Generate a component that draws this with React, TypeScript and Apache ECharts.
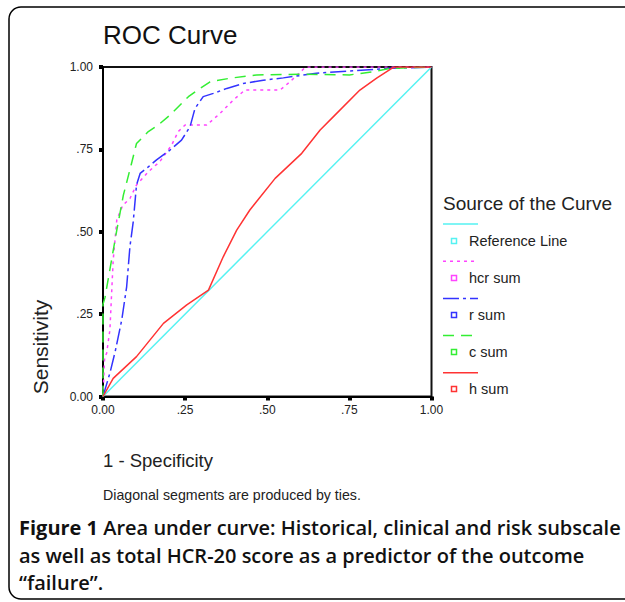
import React, { useEffect, useRef } from "react";
import * as echarts from "echarts";

const seriesNames = ["Reference Line", "hcr sum", "r sum", "c sum", "h sum"];
const seriesColors = ["#55f2f2", "#ff44ff", "#3333ff", "#33ee33", "#ff3333"];
const seriesDash: (number[] | "solid")[] = ["solid", [3, 4], [16, 4, 3, 4], [11, 7], "solid"];

const xTickLabels = ["0.00", ".25", ".50", ".75", "1.00"];
const yTickLabels = ["0.00", ".25", ".50", ".75", "1.00"];

const referenceLine = [[0, 0], [1, 1]];

const hcrSum = [
  [0, 0], [0.005, 0.12], [0.011, 0.131], [0.021, 0.202], [0.031, 0.414], [0.042, 0.536],
  [0.06, 0.58], [0.082, 0.601], [0.102, 0.642], [0.138, 0.682], [0.173, 0.713], [0.209, 0.763],
  [0.229, 0.804], [0.25, 0.824], [0.316, 0.824], [0.356, 0.859], [0.397, 0.9], [0.432, 0.93],
  [0.539, 0.93], [0.569, 0.955], [0.615, 0.998], [0.62, 1], [1, 1],
];

const rSum = [
  [0, 0], [0.021, 0.071], [0.037, 0.136], [0.057, 0.232], [0.072, 0.333], [0.082, 0.455],
  [0.092, 0.53], [0.102, 0.642], [0.113, 0.677], [0.138, 0.697], [0.163, 0.718], [0.204, 0.748],
  [0.239, 0.778], [0.265, 0.819], [0.28, 0.874], [0.305, 0.91], [0.336, 0.92], [0.377, 0.935],
  [0.427, 0.95], [0.488, 0.96], [0.549, 0.967], [0.65, 0.981], [0.752, 0.988], [0.874, 0.996], [1, 1],
];

const cSum = [
  [0, 0], [0, 0.28], [0.006, 0.3], [0.026, 0.414], [0.042, 0.505], [0.062, 0.611], [0.087, 0.708],
  [0.102, 0.768], [0.138, 0.804], [0.168, 0.824], [0.204, 0.854], [0.26, 0.91], [0.295, 0.935],
  [0.326, 0.955], [0.387, 0.966], [0.468, 0.976], [0.6, 0.978], [0.75, 0.976], [0.82, 0.985],
  [0.874, 0.996], [1, 1],
];

const hSum = [
  [0, 0], [0.031, 0.055], [0.102, 0.121], [0.184, 0.222], [0.255, 0.278], [0.321, 0.323],
  [0.366, 0.424], [0.407, 0.505], [0.447, 0.566], [0.524, 0.662], [0.605, 0.738], [0.661, 0.809],
  [0.706, 0.854], [0.782, 0.93], [0.833, 0.966], [0.879, 0.996], [0.89, 1], [1, 1],
];

const seriesData = [referenceLine, hcrSum, rSum, cSum, hSum];

const chartTitle = "ROC Curve";
const xTitle = "1 - Specificity";
const yTitle = "Sensitivity";
const legendTitle = "Source of the Curve";
const footnote = "Diagonal segments are produced by ties.";
const captionBold = "Figure 1";
const captionLines = [
  " Area under curve: Historical, clinical and risk subscale",
  "as well as total HCR-20 score as a predictor of the outcome",
  "\u201cfailure\u201d.",
];

const FONT = "'Liberation Sans', Arial, sans-serif";
const CAP_FONT = "'Open Sans', sans-serif";

export default function App() {
  const ref = useRef<HTMLDivElement>(null);
  useEffect(() => {
    document.body.style.margin = "0";
    const chart = echarts.init(ref.current!, undefined, { renderer: "svg" });

    const legendX = 443;
    const legendGraphics: any[] = [];
    seriesNames.forEach((name, i) => {
      const ly = 224 + 37.2 * i;
      const ty = 241 + 37 * i;
      const dash = seriesDash[i];
      legendGraphics.push({
        type: "line",
        shape: { x1: legendX, y1: ly, x2: legendX + 35, y2: ly },
        style: { stroke: seriesColors[i], lineWidth: 1.5, lineDash: dash === "solid" ? null : dash },
      });
      legendGraphics.push({
        type: "rect",
        shape: { x: 451.5, y: ty - 2.5, width: 5, height: 5 },
        style: { fill: "#fff", stroke: seriesColors[i], lineWidth: 1.5 },
      });
      legendGraphics.push({
        type: "text",
        x: 469,
        y: ty,
        style: { text: name, font: `14.5px ${FONT}`, fill: "#222", verticalAlign: "middle" },
      });
    });

    chart.setOption({
      animation: false,
      grid: {
        left: 103,
        top: 67,
        width: 328.5,
        height: 329.5,
        show: true,
        borderColor: "#111",
        borderWidth: 2,
        backgroundColor: "#fff",
      },
      xAxis: {
        type: "value",
        min: 0,
        max: 1,
        interval: 0.25,
        axisLine: { show: true, lineStyle: { color: "#000", width: 2 } },
        axisTick: { show: true, length: 4, lineStyle: { color: "#000", width: 4 } },
        splitLine: { show: false },
        axisLabel: {
          margin: 7,
          fontFamily: FONT,
          fontSize: 12,
          color: "#222",
          formatter: (v: number) => xTickLabels[Math.round(v / 0.25)],
        },
      },
      yAxis: {
        type: "value",
        min: 0,
        max: 1,
        interval: 0.25,
        axisLine: { show: true, lineStyle: { color: "#000", width: 2 } },
        axisTick: { show: true, length: 4, lineStyle: { color: "#000", width: 4 } },
        splitLine: { show: false },
        axisLabel: {
          margin: 10,
          fontFamily: FONT,
          fontSize: 12,
          color: "#222",
          formatter: (v: number) => yTickLabels[Math.round(v / 0.25)],
        },
      },
      series: seriesNames.map((name, i) => ({
        name,
        type: "line",
        data: seriesData[i],
        showSymbol: false,
        symbol: "none",
        z: i === 0 ? 2 : 3,
        lineStyle: {
          color: seriesColors[i],
          width: 1.5,
          type: seriesDash[i],
        },
      })),
      graphic: [
        {
          type: "rect",
          shape: { x: 9, y: 7, width: 640, height: 592, r: 12 },
          style: { fill: "none", stroke: "#000", lineWidth: 1.5 },
          z: -10,
        },
        {
          type: "text",
          x: 103,
          y: 35,
          style: { text: chartTitle, font: `26px ${FONT}`, fill: "#111", verticalAlign: "middle" },
        },
        {
          type: "text",
          x: 40,
          y: 347,
          rotation: Math.PI / 2,
          style: { text: yTitle, font: `21px ${FONT}`, fill: "#222", align: "center", verticalAlign: "middle" },
        },
        {
          type: "text",
          x: 103,
          y: 460,
          style: { text: xTitle, font: `18.5px ${FONT}`, fill: "#222", verticalAlign: "middle" },
        },
        {
          type: "text",
          x: 103,
          y: 495,
          style: { text: footnote, font: `14.2px ${FONT}`, fill: "#222", verticalAlign: "middle" },
        },
        {
          type: "text",
          x: 443,
          y: 203,
          style: { text: legendTitle, font: `19px ${FONT}`, fill: "#222", verticalAlign: "middle" },
        },
        ...legendGraphics,
        {
          type: "text",
          x: 19,
          y: 527,
          style: {
            text: `{b|${captionBold}}{n|${captionLines[0]}}`,
            verticalAlign: "middle",
            rich: {
              b: { fontFamily: CAP_FONT, fontSize: 20, fontWeight: 700, fill: "#111" },
              n: { fontFamily: CAP_FONT, fontSize: 20, fontWeight: 600, fill: "#111" },
            },
          },
        },
        {
          type: "text",
          x: 19,
          y: 555,
          style: { text: captionLines[1], font: `600 20px ${CAP_FONT}`, fill: "#111", verticalAlign: "middle" },
        },
        {
          type: "text",
          x: 19,
          y: 582,
          style: { text: captionLines[2], font: `600 20px ${CAP_FONT}`, fill: "#111", verticalAlign: "middle" },
        },
      ],
    });
    return () => chart.dispose();
  }, []);
  return <div ref={ref} style={{ width: 625, height: 602 }} />;
}
